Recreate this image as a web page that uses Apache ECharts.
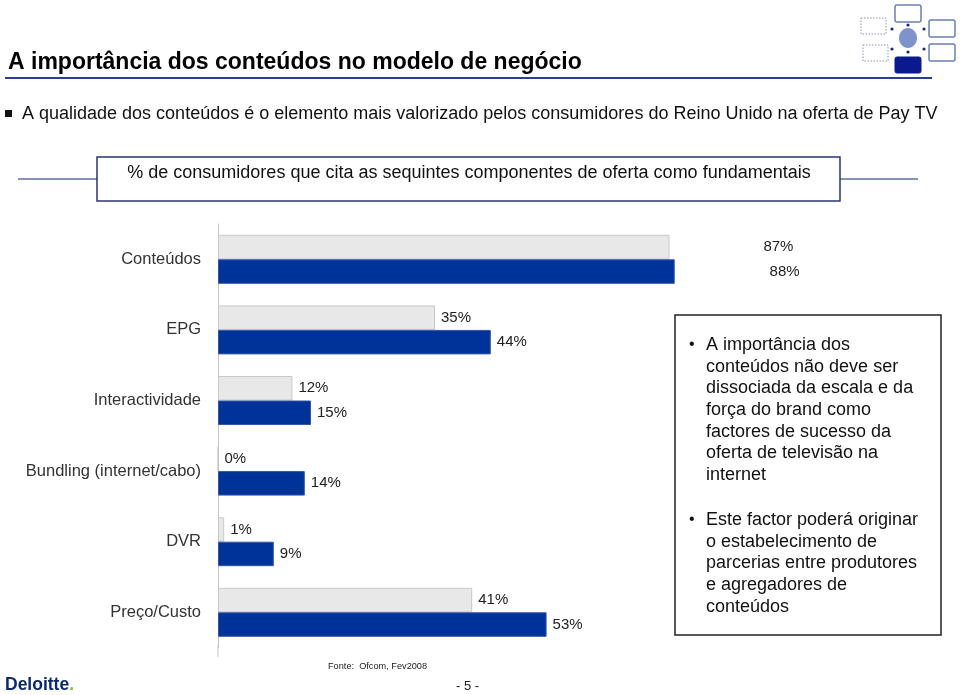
<!DOCTYPE html>
<html>
<head>
<meta charset="utf-8">
<script src="https://cdn.jsdelivr.net/npm/echarts@6/dist/echarts.min.js"></script>
<style>html,body{margin:0;padding:0;background:#fff;}#c{width:960px;height:695px;}</style>
</head>
<body>
<div id="c"></div>
<script>
var categories = ['Conteúdos', 'EPG', 'Interactividade', 'Bundling (internet/cabo)', 'DVR', 'Preço/Custo'];
var grayValues = [87, 35, 12, 0, 1, 41];
var blueValues = [88, 44, 15, 14, 9, 53];

var titleText = 'A importância dos conteúdos no modelo de negócio';
var subtitleText = 'A qualidade dos conteúdos é o elemento mais valorizado pelos consumidores do Reino Unido na oferta de Pay TV';
var boxText = '% de consumidores que cita as sequintes componentes de oferta como fundamentais';
var note1 = ['A importância dos', 'conteúdos não deve ser', 'dissociada da escala e da', 'força do brand como', 'factores de sucesso da', 'oferta de televisão na', 'internet'];
var note2 = ['Este factor poderá originar', 'o estabelecimento de', 'parcerias entre produtores', 'e agregadores de', 'conteúdos'];

var FONT = '"Liberation Sans", Arial, sans-serif';
var chart = echarts.init(document.getElementById('c'));

var labelStyle = {show: true, position: 'right', distance: 6, formatter: '{c}%', color: '#222', fontSize: 15, fontFamily: FONT};
var noLabel = {show: false};
var grayStyle = {color: '#e8e8e8', borderColor: '#c9c9c9', borderWidth: 1};
var blueStyle = {color: '#003399', borderColor: '#3355aa', borderWidth: 1};
var ghostStyle = {color: 'rgba(0,0,0,0)', borderWidth: 0};

var graphics = [];
function txt(x, y, s, size, opts) {
  var o = {type: 'text', x: x, y: y, style: Object.assign({text: s, fontSize: size, fontFamily: FONT, fill: '#111', textVerticalAlign: 'middle'}, opts || {})};
  graphics.push(o);
}
// title
txt(8, 62.5, titleText, 23, {fontWeight: 'bold', fill: '#000'});
graphics.push({type: 'line', shape: {x1: 5, y1: 78, x2: 932, y2: 78}, style: {stroke: '#2b3f8e', lineWidth: 2}});
// icon
graphics.push({type: 'rect', shape: {x: 895, y: 5, width: 26, height: 17, r: 2}, style: {fill: '#fff', stroke: '#6a7fb5', lineWidth: 1.5}});
graphics.push({type: 'rect', shape: {x: 929, y: 20, width: 26, height: 17, r: 2}, style: {fill: '#fff', stroke: '#6a7fb5', lineWidth: 1.5}});
graphics.push({type: 'rect', shape: {x: 929, y: 44, width: 26, height: 17, r: 2}, style: {fill: '#fff', stroke: '#6a7fb5', lineWidth: 1.5}});
graphics.push({type: 'rect', shape: {x: 861, y: 18, width: 25, height: 16}, style: {fill: '#fff', stroke: '#8893b8', lineWidth: 1, lineDash: [1.5, 1.5]}});
graphics.push({type: 'rect', shape: {x: 863, y: 45, width: 25, height: 16}, style: {fill: '#fff', stroke: '#8893b8', lineWidth: 1, lineDash: [1.5, 1.5]}});
graphics.push({type: 'rect', shape: {x: 895, y: 57, width: 26, height: 16, r: 2}, style: {fill: '#0a1a8c', stroke: '#0a1a8c'}});
graphics.push({type: 'ellipse', shape: {cx: 908, cy: 38, rx: 9, ry: 10}, style: {fill: '#7d93cc'}});
[[908, 25, 0], [892, 29, -1], [924, 29, 1], [892, 49, -1], [924, 49, 1], [908, 52, 0]].forEach(function (a) {
  graphics.push({type: 'circle', shape: {cx: a[0], cy: a[1], r: 1.6}, style: {fill: '#1a2a80'}});
});
// subtitle
graphics.push({type: 'rect', shape: {x: 5, y: 110, width: 7, height: 7}, style: {fill: '#111'}});
txt(22, 114, subtitleText, 18, {fill: '#111'});
// box header
graphics.push({type: 'line', shape: {x1: 18, y1: 179, x2: 97, y2: 179}, style: {stroke: '#5b6ea8', lineWidth: 1.5}});
graphics.push({type: 'line', shape: {x1: 840, y1: 179, x2: 918, y2: 179}, style: {stroke: '#5b6ea8', lineWidth: 1.5}});
graphics.push({type: 'rect', shape: {x: 97, y: 157, width: 743, height: 44}, style: {fill: '#fff', stroke: '#2b3570', lineWidth: 1.5}});
txt(469, 173, boxText, 18, {textAlign: 'center', fill: '#111'});
// note box
graphics.push({type: 'rect', shape: {x: 675, y: 315, width: 266, height: 320}, style: {fill: '#fff', stroke: '#222', lineWidth: 1.5}});
txt(689, 345, '•', 16, {fill: '#111'});
note1.forEach(function (l, i) { txt(706, 345 + i * 21.7, l, 18, {fill: '#111'}); });
txt(689, 520, '•', 16, {fill: '#111'});
note2.forEach(function (l, i) { txt(706, 520 + i * 21.7, l, 18, {fill: '#111'}); });
// footer
graphics.push({type: 'line', shape: {x1: 218, y1: 645, x2: 218, y2: 657}, style: {stroke: '#c4c4c4', lineWidth: 1}});
txt(328, 666, 'Fonte:  Ofcom, Fev2008', 9.2, {fill: '#222'});
txt(456, 686, '- 5 -', 13, {fill: '#222'});
graphics.push({type: 'text', x: 5, y: 685, style: {rich: {a: {fontSize: 17.5, fontWeight: 'bold', fill: '#0b2a6e', fontFamily: FONT}, b: {fontSize: 17.5, fontWeight: 'bold', fill: '#86bc25', fontFamily: FONT}}, text: '{a|Deloitte}{b|.}', textVerticalAlign: 'middle'}});

var catAxisCommon = {
  type: 'category', inverse: true,
  axisLine: {show: true, lineStyle: {color: '#c4c4c4', width: 1}},
  axisTick: {show: false},
  axisLabel: {color: '#333', fontSize: 16.5, fontFamily: FONT, margin: 17}
};

chart.setOption({
  animation: false,
  grid: [
    {left: 218, top: 224, width: 519, height: 70.6},
    {left: 218, top: 294.6, width: 620, height: 353},
    {left: 218, top: 224, width: 620, height: 70.6}
  ],
  xAxis: [
    {gridIndex: 0, type: 'value', min: 0, max: 100, show: false},
    {gridIndex: 1, type: 'value', min: 0, max: 100, show: false},
    {gridIndex: 2, type: 'value', min: 0, max: 100, show: false}
  ],
  yAxis: [
    Object.assign({gridIndex: 0, data: categories.slice(0, 1)}, catAxisCommon),
    Object.assign({gridIndex: 1, data: categories.slice(1)}, catAxisCommon),
    {gridIndex: 2, type: 'category', inverse: true, show: false, data: categories.slice(0, 1)}
  ],
  series: [
    {type: 'bar', xAxisIndex: 0, yAxisIndex: 0, data: grayValues.slice(0, 1), barWidth: 24.5, barGap: '0%', itemStyle: grayStyle, label: noLabel},
    {type: 'bar', xAxisIndex: 0, yAxisIndex: 0, data: blueValues.slice(0, 1), barWidth: 24.5, barGap: '0%', itemStyle: blueStyle, label: noLabel},
    {type: 'bar', xAxisIndex: 2, yAxisIndex: 2, data: grayValues.slice(0, 1), barWidth: 24.5, barGap: '0%', itemStyle: ghostStyle, label: labelStyle, silent: true},
    {type: 'bar', xAxisIndex: 2, yAxisIndex: 2, data: blueValues.slice(0, 1), barWidth: 24.5, barGap: '0%', itemStyle: ghostStyle, label: labelStyle, silent: true},
    {type: 'bar', xAxisIndex: 1, yAxisIndex: 1, data: grayValues.slice(1), barWidth: 24.5, barGap: '0%', itemStyle: grayStyle, label: labelStyle},
    {type: 'bar', xAxisIndex: 1, yAxisIndex: 1, data: blueValues.slice(1), barWidth: 24.5, barGap: '0%', itemStyle: blueStyle, label: labelStyle}
  ],
  graphic: graphics
});
</script>
</body>
</html>
